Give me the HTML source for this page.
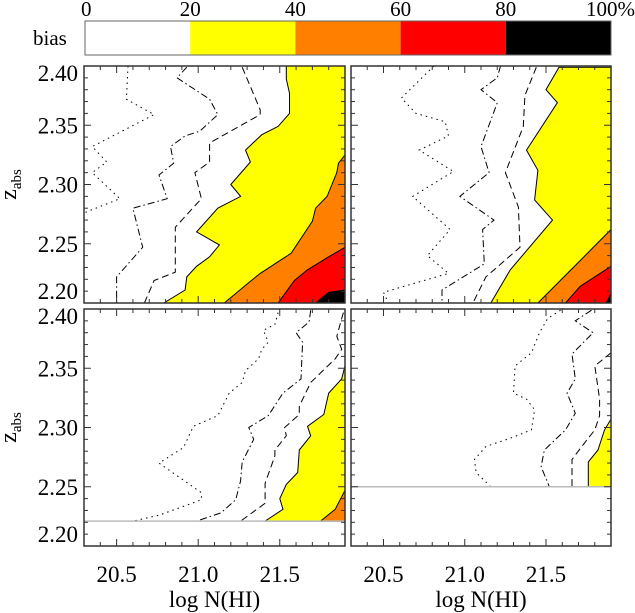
<!DOCTYPE html>
<html><head><meta charset="utf-8"><style>
html,body{margin:0;padding:0;background:#fff;}
svg{display:block;}
svg text{font-family:"Liberation Serif","DejaVu Serif",serif !important;}
</style></head><body>
<svg id="chart" width="635" height="613" viewBox="0 0 635 613"></svg>
<script>
const NS="http://www.w3.org/2000/svg";
const svg=document.getElementById('chart');
// colorbar
const cbLevels=[0,20,40,60,80,100];
const cbColors=["#ffffff","#ffff00","#ff8000","#ff0000","#000000"];
// axis ticks
const xTickLabels=[20.5,21.0,21.5];
const yTickLabels=[2.20,2.25,2.30,2.35,2.40];
// contour data [logN, z] per panel
const tlDotted=[[20.57,2.400],[20.56,2.372],[20.73,2.359],[20.35,2.332],[20.44,2.319],[20.35,2.310],[20.52,2.288],[20.30,2.276]];
const tlDashDot=[[20.93,2.399],[20.87,2.390],[21.07,2.372],[21.12,2.359],[21.01,2.345],[20.92,2.341],[20.83,2.332],[20.85,2.318],[20.76,2.308],[20.81,2.288],[20.60,2.280],[20.66,2.247],[20.50,2.222],[20.50,2.200]];
const tlDashed=[[21.27,2.399],[21.38,2.363],[21.38,2.359],[21.07,2.335],[21.07,2.319],[20.98,2.310],[21.02,2.288],[20.86,2.264],[20.86,2.226],[20.73,2.219],[20.67,2.200]];
const tl20=[[21.54,2.400],[21.54,2.389],[21.56,2.377],[21.56,2.360],[21.49,2.349],[21.39,2.342],[21.29,2.329],[21.32,2.319],[21.20,2.300],[21.26,2.290],[21.12,2.280],[20.99,2.260],[21.13,2.249],[21.07,2.239],[20.99,2.231],[20.93,2.222],[20.92,2.211],[20.79,2.200]];
const tl40=[[21.90,2.325],[21.86,2.318],[21.85,2.310],[21.79,2.290],[21.72,2.280],[21.70,2.269],[21.57,2.242],[21.38,2.225],[21.30,2.216],[21.16,2.200]];
const tl60=[[21.90,2.247],[21.80,2.239],[21.67,2.228],[21.59,2.219],[21.49,2.200]];
const tl80=[[21.90,2.211],[21.80,2.209],[21.72,2.200]];
const trDotted=[[20.81,2.400],[20.61,2.373],[20.70,2.360],[20.88,2.353],[20.90,2.341],[20.72,2.329],[20.93,2.311],[20.68,2.290],[20.91,2.262],[20.77,2.240],[20.90,2.225],[20.50,2.209],[20.53,2.200]];
const trDashDot=[[21.22,2.400],[21.20,2.390],[21.10,2.380],[21.20,2.369],[21.10,2.332],[21.15,2.310],[20.97,2.290],[21.18,2.270],[21.11,2.262],[21.12,2.233],[20.86,2.211],[20.86,2.200]];
const trDashed=[[21.44,2.399],[21.37,2.375],[21.36,2.349],[21.25,2.310],[21.33,2.281],[21.34,2.247],[21.13,2.222],[21.05,2.200]];
const tr20=[[21.58,2.399],[21.50,2.380],[21.57,2.369],[21.38,2.329],[21.45,2.312],[21.43,2.287],[21.54,2.270],[21.28,2.228],[21.16,2.200]];
const tr40=[[21.90,2.262],[21.69,2.233],[21.45,2.200]];
const tr60=[[21.90,2.231],[21.71,2.214],[21.62,2.200]];
const tr80=[[21.90,2.208],[21.87,2.200]];
const blDotted=[[21.49,2.397],[21.47,2.387],[21.40,2.382],[21.43,2.372],[21.39,2.366],[21.37,2.358],[21.29,2.348],[21.27,2.338],[21.19,2.329],[21.12,2.310],[20.97,2.301],[20.91,2.283],[20.76,2.270],[21.02,2.245],[21.02,2.239],[20.88,2.232],[20.76,2.226],[20.60,2.221]];
const blDashDot=[[21.69,2.399],[21.68,2.389],[21.60,2.380],[21.64,2.372],[21.63,2.341],[21.52,2.329],[21.43,2.310],[21.31,2.300],[21.34,2.290],[21.27,2.271],[21.26,2.255],[21.23,2.239],[21.14,2.228],[20.99,2.221]];
const blDashed=[[21.89,2.397],[21.88,2.392],[21.85,2.377],[21.88,2.366],[21.84,2.358],[21.69,2.338],[21.62,2.318],[21.62,2.311],[21.53,2.300],[21.54,2.293],[21.47,2.281],[21.47,2.276],[21.41,2.253],[21.41,2.236],[21.26,2.221]];
const bl20=[[21.90,2.352],[21.88,2.341],[21.80,2.329],[21.77,2.311],[21.67,2.301],[21.69,2.293],[21.62,2.281],[21.61,2.262],[21.54,2.252],[21.50,2.240],[21.52,2.231],[21.41,2.221]];
const bl40=[[21.90,2.247],[21.84,2.231],[21.75,2.221]];
const brDotted=[[21.59,2.399],[21.51,2.392],[21.46,2.380],[21.41,2.363],[21.31,2.352],[21.30,2.329],[21.38,2.324],[21.43,2.315],[21.41,2.298],[21.28,2.291],[21.13,2.284],[21.06,2.273],[21.07,2.262],[21.16,2.250]];
const brDashDot=[[21.78,2.399],[21.68,2.390],[21.79,2.380],[21.66,2.362],[21.68,2.341],[21.63,2.329],[21.68,2.312],[21.62,2.298],[21.49,2.281],[21.47,2.267],[21.52,2.250]];
const brDashed=[[21.90,2.363],[21.80,2.352],[21.83,2.324],[21.83,2.310],[21.80,2.298],[21.72,2.284],[21.66,2.273],[21.66,2.250]];
const br20=[[21.90,2.307],[21.86,2.298],[21.82,2.281],[21.76,2.271],[21.76,2.250]];
const blCutoff=2.221, brCutoff=2.250;

const FONT="'Liberation Serif','DejaVu Serif',serif";
function el(tag,attrs,parent){const e=document.createElementNS(NS,tag);for(const k in attrs)e.setAttribute(k,attrs[k]);if(tag==='text')e.setAttribute('font-family',FONT);(parent||svg).appendChild(e);return e;}
const cbX0=85,cbX1=611,cbY0=21,cbY1=55;
const cbScale=v=>cbX0+(v-0)/(100)*(cbX1-cbX0);
const cbg=el('g',{});


for(let i=0;i<cbColors.length;i++){
  const r=el('rect',{x:cbScale(cbLevels[i]),y:cbY0,width:cbScale(cbLevels[i+1])-cbScale(cbLevels[i]),height:cbY1-cbY0,fill:cbColors[i]},cbg);
  
  
}
el('rect',{x:cbX0,y:cbY0,width:cbX1-cbX0,height:cbY1-cbY0,fill:'none',stroke:'#666','stroke-width':1},cbg);
cbLevels.forEach((v,i)=>{
  const last=i==cbLevels.length-1;
  const t=el('text',{x:cbScale(v),y:16,'font-size':21,'text-anchor':i==0?'start':(last?'end':'middle'),fill:'#000'},cbg);
  if(i==0)t.setAttribute('x',cbScale(v)-4);
  if(last)t.setAttribute('x',cbScale(v)+24);
  t.textContent=v+(last?'%':'');
  
  
});
const bias=el('text',{x:33,y:45,'font-size':21,fill:'#000'});
bias.textContent='bias';



const panels=[
 {name:'top-left',x0:84,x1:345,y0:66,y1:303,ylab:true,xlab:false,fills:[tl20,tl40,tl60,tl80],lines:[tlDotted,tlDashDot,tlDashed],cut:null},
 {name:'top-right',x0:351,x1:611,y0:66,y1:303,ylab:false,xlab:false,fills:[tr20,tr40,tr60,tr80],lines:[trDotted,trDashDot,trDashed],cut:null},
 {name:'bottom-left',x0:84,x1:345,y0:309,y1:546,ylab:true,xlab:true,fills:[bl20,bl40],lines:[blDotted,blDashDot,blDashed],cut:blCutoff},
 {name:'bottom-right',x0:351,x1:611,y0:309,y1:546,ylab:false,xlab:true,fills:[br20],lines:[brDotted,brDashDot,brDashed],cut:brCutoff},
];
const fillColors=["#ffff00","#ff8000","#ff0000","#000000"];
const dashes=["1.5,4","7,3,1.5,3","7,4"];
const XMIN=20.3,XMAX=21.9,ZMIN=2.20,ZMAX=2.40;
panels.forEach(p=>{
  const g=el('g',{});
  
  
  const sx=v=>p.x0+(v-XMIN)/(XMAX-XMIN)*(p.x1-p.x0);
  const sy=v=>p.y1-(v-ZMIN)/(ZMAX-ZMIN)*(p.y1-p.y0);
  const pts=a=>a.map(d=>sx(d[0]).toFixed(1)+','+sy(d[1]).toFixed(1)).join(' ');
  p.fills.forEach((c,i)=>{
    const poly=c.concat([[XMAX,c[c.length-1][1]],[XMAX,c[0][1]]]);
    const pg=el('polygon',{points:pts(poly),fill:fillColors[i],stroke:'#000','stroke-width':1},g);
    
    
  });
  p.lines.forEach((c,i)=>{
    const pl=el('polyline',{points:pts(c),fill:'none',stroke:'#000','stroke-width':1,'stroke-dasharray':dashes[i]},g);
    
    
  });
  if(p.cut!==null){
    const ln=el('line',{x1:p.x0,x2:p.x1,y1:sy(p.cut),y2:sy(p.cut),stroke:'#bbb','stroke-width':1.5},g);
    
    
  }
  el('rect',{x:p.x0,y:p.y0,width:p.x1-p.x0,height:p.y1-p.y0,fill:'none',stroke:'#333','stroke-width':1.5},g);
  for(let k=0;k<=20;k++){
    const z=ZMIN+k*0.01, y=sy(z), L=(k%5==0)?7:4;
    el('line',{x1:p.x0,x2:p.x0+L,y1:y,y2:y,stroke:'#333'},g);
    el('line',{x1:p.x1,x2:p.x1-L,y1:y,y2:y,stroke:'#333'},g);
  }
  for(let k=3;k<=19;k++){
    const x=sx(k/10+20), L=(k%5==0)?7:4;
    el('line',{x1:x,x2:x,y1:p.y1,y2:p.y1-L,stroke:'#333'},g);
    el('line',{x1:x,x2:x,y1:p.y0,y2:p.y0+L,stroke:'#333'},g);
  }
  if(p.ylab){
    yTickLabels.forEach(v=>{
      let y=sy(v)+8;
      if(v==ZMAX)y=p.y0+15; if(v==ZMIN)y=p.y1-4;
      const t=el('text',{x:p.x0-6,y:y,'font-size':23,'text-anchor':'end',fill:'#000'},g);
      t.textContent=v.toFixed(2);
      
      
    });
    const ty=el('text',{transform:`translate(16,${(p.y0+p.y1)/2}) rotate(-90)`,'font-size':24,'text-anchor':'middle',fill:'#000'},g);
    ty.innerHTML='z<tspan font-size="15" dy="5">abs</tspan>';
    
    
  }
  if(p.xlab){
    xTickLabels.forEach(v=>{
      const t=el('text',{x:sx(v),y:p.y1+36,'font-size':23,'text-anchor':'middle',fill:'#000'},g);
      t.textContent=v.toFixed(1);
      
      
    });
    const tx=el('text',{x:(p.x0+p.x1)/2,y:p.y1+61,'font-size':23,'text-anchor':'middle',fill:'#000'},g);
    tx.textContent='log N(HI)';
    
    
  }
});
</script>
</body></html>
